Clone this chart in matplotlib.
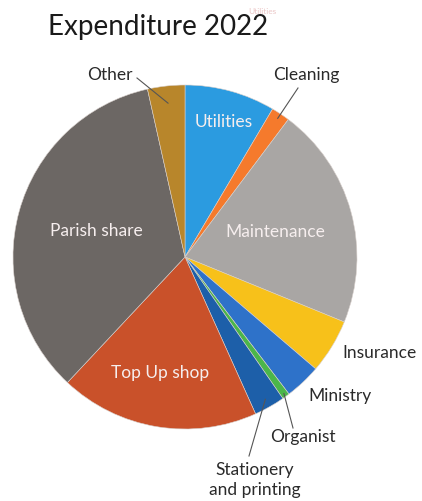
import numpy as np
import matplotlib
matplotlib.use("Agg")
import matplotlib.pyplot as plt

categories = ["Utilities", "Cleaning", "Maintenance", "Insurance", "Ministry",
              "Organist", "Stationery\nand printing", "Top Up shop", "Parish share", "Other"]
values = [8.5, 1.75, 20.9, 5.1, 3.4, 0.7, 2.9, 18.7, 34.5, 3.5]
colors = ["#2b9be0", "#f57a2c", "#a9a6a4", "#f7c11a", "#2e72c9",
          "#4bb64a", "#1d5fa9", "#c9512a", "#6c6764", "#b8862b"]

W, H = 422, 501
fig = plt.figure(figsize=(W / 100, H / 100), dpi=100)
ax = fig.add_axes([0, 0, 1, 1])

cx, cy, R = 185, H - 257, 172
wedges, _ = ax.pie(values, colors=colors, startangle=90, counterclock=False,
                   center=(cx, cy), radius=R, frame=True,
                   wedgeprops=dict(edgecolor="#d8d0cc", linewidth=0.4))
ax.set_xlim(0, W)
ax.set_ylim(0, H)
ax.set_aspect("equal")
ax.axis("off")

font = "Lato"
fs = 12.5

def px(x, y):
    return x, H - y

def wedge_point(i, frac):
    w = wedges[i]
    ang = np.deg2rad((w.theta1 + w.theta2) / 2)
    return cx + frac * R * np.cos(ang), cy + frac * R * np.sin(ang)

# inside labels
inside = {0: (224, 122), 2: (275, 232), 8: (96, 231), 7: (160, 373)}
for i, (x, y) in inside.items():
    ax.text(*px(x, y), categories[i], ha="center", va="center", fontsize=fs,
            color="#f6eeee", family=font)

# outside labels with optional leader lines
outside = {
    9: ((110, 75), (137, 78), 0.90),
    1: ((306, 75), (298, 88), 0.97),
    3: ((380, 353), None, None),
    4: ((340, 396), None, None),
    5: ((303, 437), (293, 428), 0.98),
    6: ((255, 480), (249, 456), 0.95),
}
for i, ((x, y), lp, frac) in outside.items():
    ax.text(*px(x, y), categories[i], ha="center", va="center", fontsize=fs,
            color="#2a2a2a", family=font, linespacing=1.25)
    if lp is not None:
        wx, wy = wedge_point(i, frac)
        lx, ly = px(*lp)
        ax.plot([lx, wx], [ly, wy], color="#555555", lw=0.8)

# title
ax.text(*px(48, 35), "Expenditure 2022", ha="left", va="baseline", fontsize=20,
        color="#1a1a1a", family=font)
ax.text(*px(262, 11), "Utilities", ha="center", va="center", fontsize=6,
        color="#e6b8b8", family=font, alpha=0.8)

fig.savefig("out.png", dpi=100)
